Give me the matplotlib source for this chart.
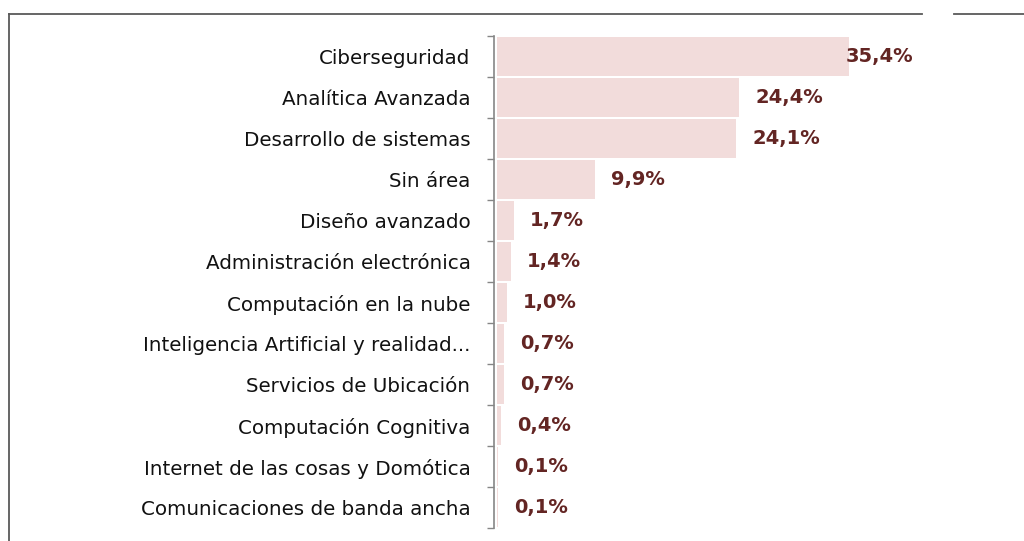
import matplotlib
matplotlib.use("Agg")
import matplotlib.pyplot as plt
from matplotlib.lines import Line2D

categories = [
    "Ciberseguridad",
    "Analítica Avanzada",
    "Desarrollo de sistemas",
    "Sin área",
    "Diseño avanzado",
    "Administración electrónica",
    "Computación en la nube",
    "Inteligencia Artificial y realidad...",
    "Servicios de Ubicación",
    "Computación Cognitiva",
    "Internet de las cosas y Domótica",
    "Comunicaciones de banda ancha",
]
values = [35.4, 24.4, 24.1, 9.9, 1.7, 1.4, 1.0, 0.7, 0.7, 0.4, 0.1, 0.1]
value_labels = ["35,4%", "24,4%", "24,1%", "9,9%", "1,7%", "1,4%", "1,0%",
                "0,7%", "0,7%", "0,4%", "0,1%", "0,1%"]

plt.rcParams['font.family'] = ['DejaVu Sans']

bar_color = '#f2dcdb'
label_color = '#632523'
spine_color = '#868686'

fig = plt.figure(figsize=(10.24, 5.41), dpi=100)
W, H = 1024, 541
ax = fig.add_axes([494 / W, 1 - 528 / H, 426 / W, (528 - 36) / H])

y = list(range(len(categories)))
ax.barh(y, values, height=0.95, color=bar_color, left=0)
ax.set_ylim(len(categories) - 0.5, -0.5)
ax.set_xlim(-0.3, 42.6)

for yi, v, lab in zip(y, values, value_labels):
    ax.text(min(v + 1.6, 35.1), yi, lab, va='center', ha='left',
            fontsize=14, fontweight='bold', color=label_color)

ax.set_yticks(y)
ax.set_yticklabels(categories)
ax.set_yticks([i - 0.5 for i in range(len(categories) + 1)], minor=True)
ax.tick_params(axis='y', which='major', length=0, pad=17,
               labelsize=14.3, labelcolor='#111111')
ax.tick_params(axis='y', which='minor', length=5, width=1, color=spine_color)
ax.set_xticks([])
for s in ['top', 'right', 'bottom']:
    ax.spines[s].set_visible(False)
ax.spines['left'].set_color(spine_color)
ax.spines['left'].set_linewidth(1.2)
ax.spines['left'].set_position(('data', -0.3))

# chart frame (partly cropped)
frame = '#595959'
fig.add_artist(Line2D([9 / W, 922 / W], [1 - 14 / H, 1 - 14 / H], color=frame, lw=1.3))
fig.add_artist(Line2D([954 / W, 1.0], [1 - 14 / H, 1 - 14 / H], color=frame, lw=1.3))
fig.add_artist(Line2D([9 / W, 9 / W], [1 - 14 / H, 0], color=frame, lw=1.3))

fig.savefig('out.png', dpi=100)
